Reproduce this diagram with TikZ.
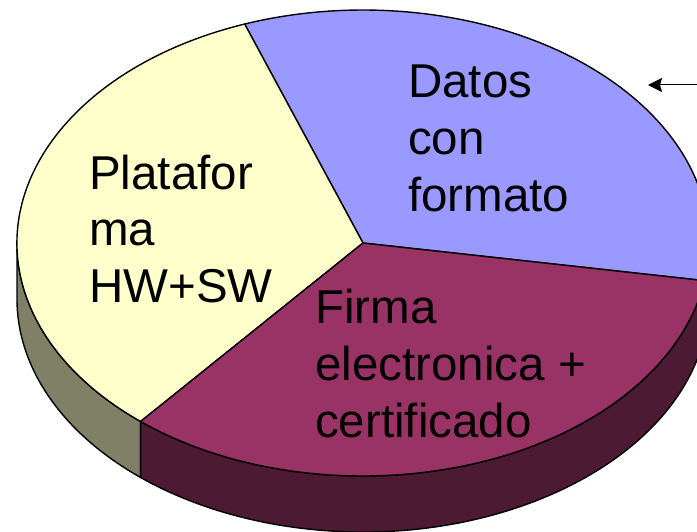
\documentclass[tikz,border=0pt]{standalone}
\usepackage{fontspec}
\setmainfont{Liberation Sans}
\usetikzlibrary{arrows.meta}
\definecolor{datosblue}{RGB}{153,153,255}
\definecolor{platyellow}{RGB}{255,255,204}
\definecolor{firmared}{RGB}{153,51,102}
\definecolor{platside}{RGB}{128,128,102}
\definecolor{firmaside}{RGB}{77,26,51}
\begin{document}
\begin{tikzpicture}[x=1pt,y=1pt]
        \useasboundingbox (0,0) rectangle (697,531);
        \clip (0,0) rectangle (697,531);
        \coordinate (c) at (363,288);
        \begin{scope}[draw=black,line width=1.4pt,line join=round]
            % side walls
            \filldraw[fill=platside] (c) ++(180:346 and 233)
                arc[start angle=180,end angle=230,x radius=346,y radius=233]
                -- ++(0,-56)
                arc[start angle=230,end angle=180,x radius=346,y radius=233] -- cycle;
            \filldraw[fill=firmaside] (c) ++(230:346 and 233)
                arc[start angle=230,end angle=350.7,x radius=346,y radius=233]
                -- ++(0,-56)
                arc[start angle=350.7,end angle=230,x radius=346,y radius=233] -- cycle;
            \filldraw[fill=datosblue!60!black] (c) ++(350.7:346 and 233)
                arc[start angle=350.7,end angle=360,x radius=346,y radius=233]
                -- ++(0,-56)
                arc[start angle=360,end angle=350.7,x radius=346,y radius=233] -- cycle;
            % top face
            \filldraw[fill=datosblue] (c) -- ++(-9.3:346 and 233)
                arc[start angle=-9.3,end angle=110,x radius=346,y radius=233] -- cycle;
            \filldraw[fill=platyellow] (c) -- ++(110:346 and 233)
                arc[start angle=110,end angle=230,x radius=346,y radius=233] -- cycle;
            \filldraw[fill=firmared] (c) -- ++(230:346 and 233)
                arc[start angle=230,end angle=350.7,x radius=346,y radius=233] -- cycle;
        \end{scope}
        \begin{scope}[every node/.style={anchor=base west,inner sep=0pt,align=left,
                font=\fontsize{47.5}{57}\selectfont}]
            \node (datos) at (408,319) {Datos\\con\\formato};
            \node (plat)  at (89,228)  {Platafor\\ma\\HW+SW};
            \node (firma) at (315,94)  {Firma\\electronica +\\certificado};
        \end{scope}
        \coordinate (src) at (698,446);
        \coordinate (dst) at (648,446);
        \draw[line width=1pt,-{Stealth[length=14pt,width=14pt,inset=2pt]}] (src) -- (dst);
    \end{tikzpicture}
\end{document}
